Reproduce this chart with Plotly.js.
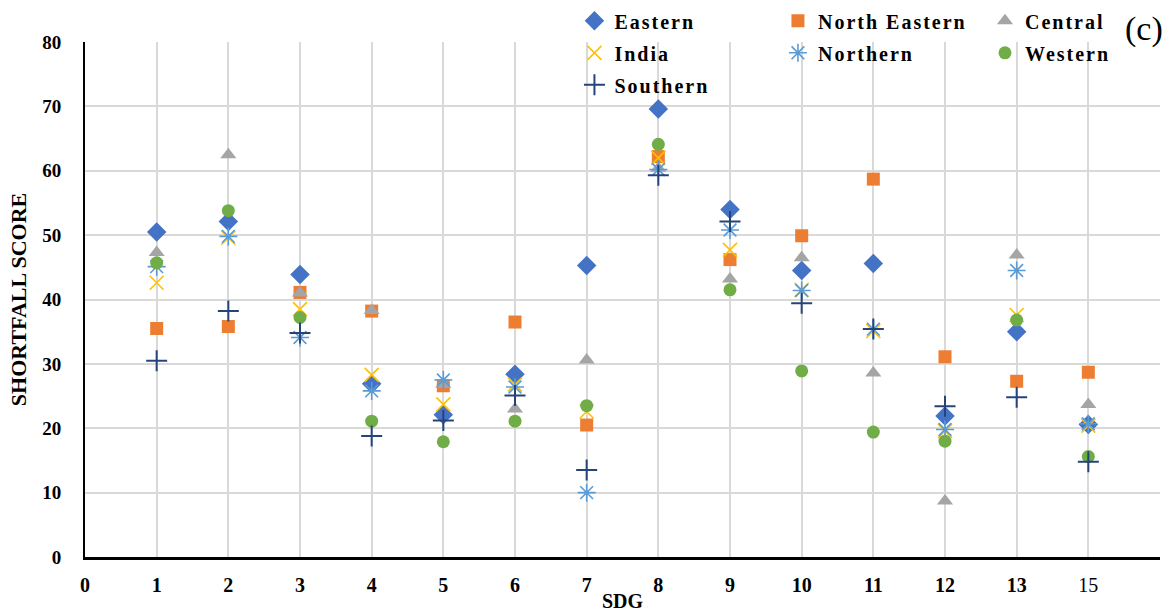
<!DOCTYPE html>
<html>
<head>
<meta charset="utf-8">
<script src="https://cdn.plot.ly/plotly-3.0.1.min.js"></script>
<style>
html,body{margin:0;padding:0;background:#fff;}
#chart{width:1175px;height:612px;}
text.legendtext, text.legend2text, text.legend3text{letter-spacing:2px !important;}
</style>
</head>
<body>
<div id="chart"></div>
<script>
// SDG positions on the axis (last category is SDG 15, drawn at position 14)
const sdgPos = [1,2,3,4,5,6,7,8,9,10,11,12,13,14];
const tickVals = [0,1,2,3,4,5,6,7,8,9,10,11,12,13,14,15];
const tickText = ['0','1','2','3','4','5','6','7','8','9','10','11','12','13','<span style="font-weight:normal">15</span>',''];

const eastern      = [50.5, 52.1, 43.9, 26.9, 22.1, 28.4, 45.3, 69.6, 54.0, 44.5, 45.6, 21.9, 35.0, 20.6];
const northEastern = [35.5, 35.8, 41.1, 38.2, 26.6, 36.5, 20.5, 62.2, 46.2, 49.9, 58.7, 31.1, 27.3, 28.7];
const central      = [47.3, 62.5, 41.0, 38.3, 26.8, 23.0, 30.6, 60.4, 43.2, 46.5, 28.6, 8.7, 46.9, 23.7];
const india        = [42.6, 49.6, 38.5, 28.3, 23.7, 26.8, 22.6, 62.0, 47.7, 41.5, 35.1, 19.6, 37.6, 20.4];
const northern     = [45.1, 49.8, 34.1, 25.8, 27.5, 26.4, 10.0, 60.2, 50.8, 41.4, 35.4, 19.8, 44.5, 20.7];
const western      = [45.7, 53.8, 37.2, 21.1, 17.9, 21.1, 23.5, 64.1, 41.5, 28.9, 19.4, 18.0, 36.8, 15.6];
const southern     = [30.5, 38.2, 34.8, 18.8, 21.2, 25.1, 13.5, 59.3, 52.1, 39.4, 35.4, 23.4, 24.8, 14.8];

function tr(name, y, marker, legend){
  return {type:'scatter', mode:'markers', name:name, x:sdgPos, y:y, marker:marker,
          legend:legend, legendgroup:name, hoverinfo:'x+y+name'};
}

const traces = [
  tr('Eastern', eastern, {symbol:'diamond', color:'#4472C4', size:15}, 'legend'),
  tr('North Eastern', northEastern, {symbol:'square', color:'#ED7D31', size:13}, 'legend2'),
  tr('Central', central, {symbol:'triangle-up', color:'#A5A5A5', size:14}, 'legend3'),
  tr('India', india, {symbol:'x-thin-open', color:'#FFC000', size:14, line:{color:'#FFC000', width:1.6}}, 'legend'),
  tr('Northern', northern, {symbol:'asterisk-open', color:'#5B9BD5', size:15, line:{color:'#5B9BD5', width:1.6}}, 'legend2'),
  tr('Western', western, {symbol:'circle', color:'#70AD47', size:13}, 'legend3'),
  tr('Southern', southern, {symbol:'cross-thin-open', color:'#264478', size:15, line:{color:'#264478', width:2}}, 'legend')
];

const serif = 'Liberation Serif, Times New Roman, serif';
const legBase = {orientation:'v', yanchor:'top', xanchor:'left', y:1.079, bgcolor:'rgba(0,0,0,0)',
  borderwidth:0, traceorder:'grouped', tracegroupgap:3, itemwidth:30,
  font:{family:serif, size:20, color:'#000', weight:'bold'}};

const layout = {
  width:1175, height:612,
  margin:{l:85, r:15, t:42, b:55, autoexpand:false},
  paper_bgcolor:'#fff', plot_bgcolor:'#fff',
  showlegend:true,
  legend: Object.assign({}, legBase, {x:0.4553}),
  legend2: Object.assign({}, legBase, {x:0.6446}),
  legend3: Object.assign({}, legBase, {x:0.8372}),
  xaxis:{
    range:[0,15], tickmode:'array', tickvals:tickVals, ticktext:tickText,
    showgrid:true, gridcolor:'#d9d9d9', gridwidth:1.5, zeroline:false,
    showline:true, linecolor:'#000', linewidth:2.5, ticks:'',
    ticklabelstandoff:8,
    tickfont:{family:serif, size:20, color:'#000', weight:'bold'},
    title:{text:'SDG', font:{family:serif, size:20, color:'#000', weight:'bold'}, standoff:0}
  },
  yaxis:{
    range:[0,80], dtick:10, tick0:0,
    showgrid:true, gridcolor:'#d9d9d9', gridwidth:1.5, zeroline:false,
    showline:true, linecolor:'#000', linewidth:2, ticks:'',
    ticklabelstandoff:18,
    tickfont:{family:serif, size:19, color:'#000', weight:'bold'},
    title:{text:'SHORTFALL SCORE', font:{family:serif, size:22, color:'#000', weight:'bold'}, standoff:10}
  },
  annotations:[
    {text:'(c)', xref:'paper', yref:'paper', x:0.985, y:1.026, xanchor:'center', yanchor:'middle',
     showarrow:false, font:{family:serif, size:34, color:'#000'}}
  ]
};

Plotly.newPlot('chart', traces, layout, {displayModeBar:false, responsive:false});
</script>
</body>
</html>
